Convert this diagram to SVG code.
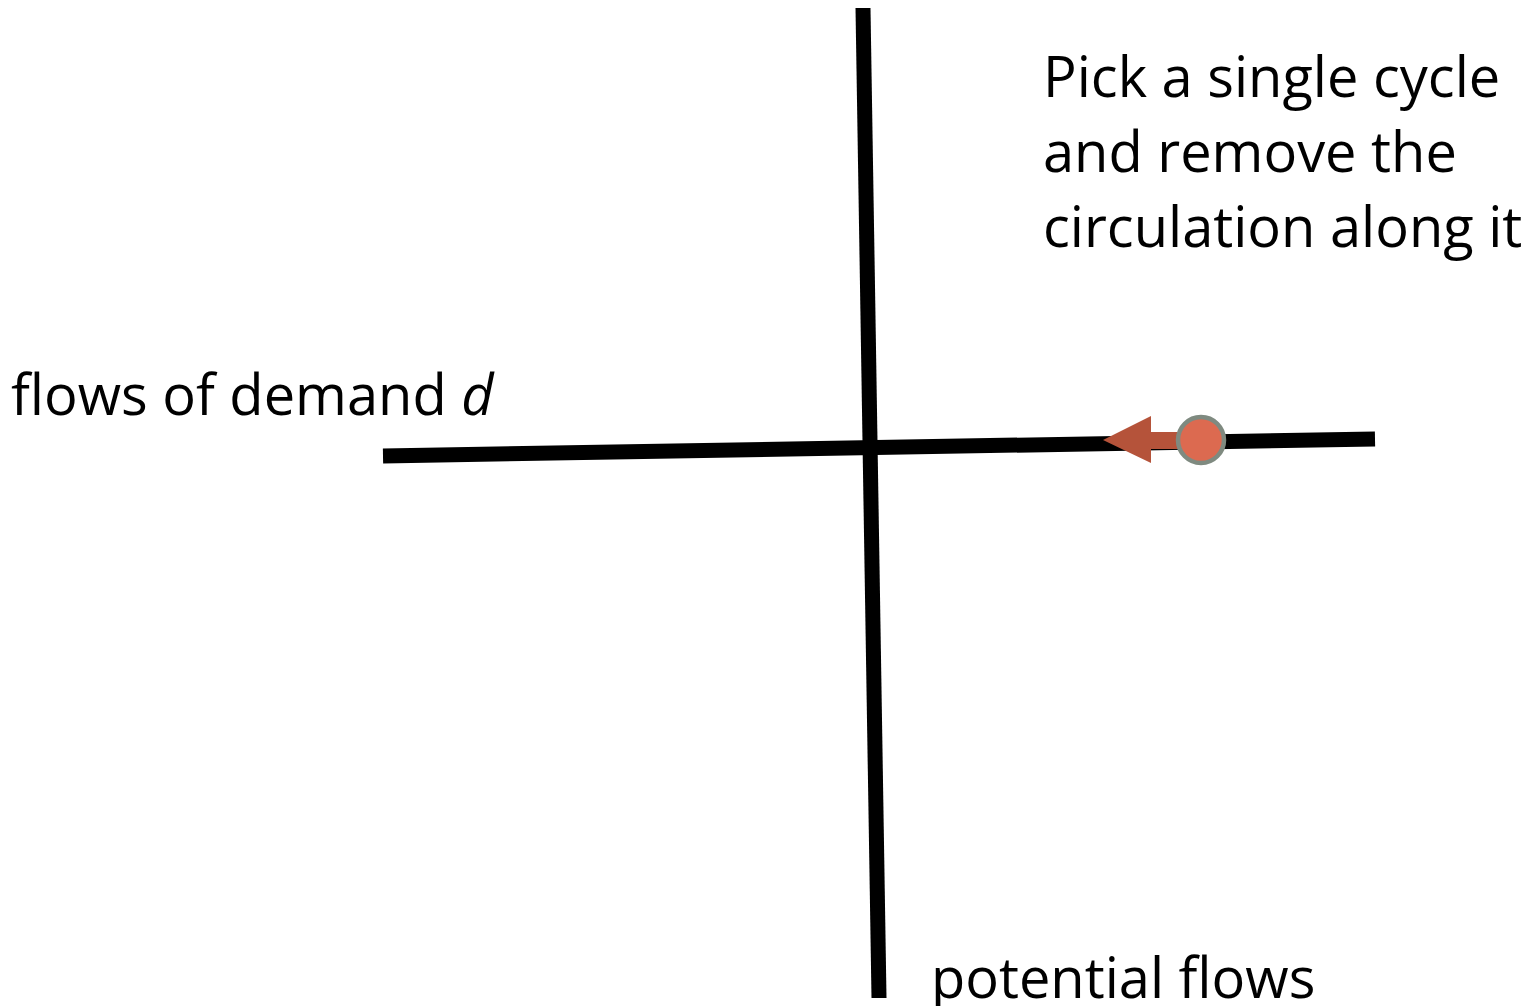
<svg xmlns="http://www.w3.org/2000/svg" width="1531" height="1006" viewBox="0 0 1531 1006">
<style>
.t{font-family:"Open Sans","Liberation Sans",sans-serif;font-size:56px;fill:#000}
.ax{stroke:#000;stroke-width:15;fill:none}
</style>
<rect width="1531" height="1006" fill="#fff"/>
<g id="axes">
<line class="ax" x1="863" y1="8" x2="879" y2="998"/>
<line class="ax" x1="383" y1="456" x2="1375" y2="439"/>
</g>
<g id="connectors">
<path d="M1180,432 L1151,432 L1151,416 L1103,440 L1151,463 L1151,449 L1180,449 Z" fill="#b5533a"/>
</g>
<g id="node-point">
<circle cx="1201" cy="440" r="23" fill="#dc6a50" stroke="#7f8a80" stroke-width="4.5"/>
</g>
<g id="labels">
<text class="t" x="1043" y="97">Pick a single cycle</text>
<text class="t" x="1043" y="172">and remove the</text>
<text class="t" x="1043" y="247">circulation along it</text>
<text class="t" x="11" y="415">flows of demand <tspan font-style="italic">d</tspan></text>
<text class="t" x="931" y="998">potential flows</text>
</g>
</svg>
